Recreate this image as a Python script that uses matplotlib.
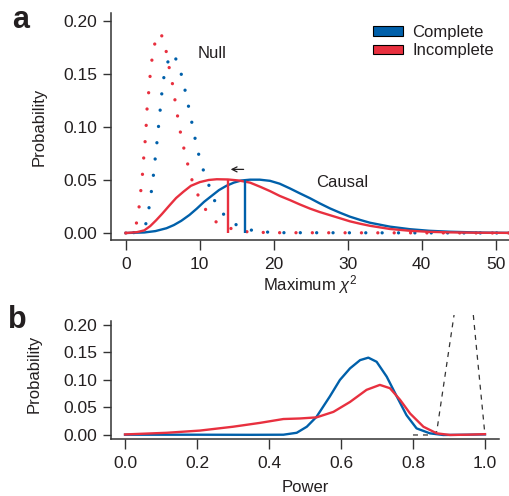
import matplotlib
matplotlib.use("Agg")
import matplotlib.pyplot as plt
from matplotlib.patches import Patch

plt.rcParams['font.family'] = ['Liberation Sans', 'DejaVu Sans']
plt.rcParams['mathtext.fontset'] = 'custom'
plt.rcParams['mathtext.rm'] = 'Liberation Sans'
plt.rcParams['mathtext.it'] = 'Liberation Sans:italic'

BLUE = '#0060aa'
RED = '#e8303f'
INK = '#231f20'

# panel a: null distributions (dotted)
null_red_x = [0, 0.8, 1.35, 1.67, 1.9, 2.07, 2.25, 2.39, 2.52, 2.7, 2.78, 2.88, 3.06, 3.2, 3.38, 3.6, 3.96, 4.69,
              5.31, 5.6, 5.95, 6.3, 6.57, 6.85, 7.16, 7.47, 7.88, 8.3, 8.7, 9.28, 10, 10.9, 12.07, 13.55, 15.3, 17, 20, 52]
null_red_y = [0, 0.001, 0.006, 0.018, 0.030, 0.043, 0.055, 0.068, 0.080, 0.0925, 0.105, 0.118, 0.130, 0.142, 0.155, 0.167, 0.180, 0.189,
              0.178, 0.165, 0.153, 0.141, 0.129, 0.116, 0.104, 0.0915, 0.079, 0.067, 0.055, 0.0434, 0.032, 0.0208, 0.011, 0.0057, 0.0019, 0.0008, 0.0003, 0.0]
null_blue_x = [0, 1.5, 2.3, 2.8, 3.1, 3.38, 3.6, 3.83, 4.0, 4.19, 4.37, 4.55, 4.73, 4.9, 5.14, 5.5, 6.35,
               7.16, 7.6, 8.0, 8.38, 8.74, 9.1, 9.46, 9.86, 10.36, 10.99, 11.6, 12.25, 13.3, 14.7, 16.26, 18, 21, 52]
null_blue_y = [0, 0.0005, 0.003, 0.010, 0.022, 0.035, 0.047, 0.060, 0.072, 0.084, 0.097, 0.109, 0.122, 0.134, 0.1465, 0.159, 0.1695,
               0.159, 0.147, 0.135, 0.1226, 0.111, 0.098, 0.086, 0.074, 0.0616, 0.050, 0.0375, 0.0264, 0.017, 0.0085, 0.0038, 0.0012, 0.0003, 0.0]

# panel a: causal distributions
causal_red_x = [0, 1.5, 2.5, 3.3, 4.1, 4.9, 5.9, 6.8, 7.8, 8.8, 10, 11.2, 12.3, 13.8, 15.3, 16.8, 18.2, 19.5, 20.8, 22.2, 23.5,
                24.9, 26.2, 27.6, 29, 30.3, 31.7, 33, 35.7, 38.4, 41, 43.8, 47, 52]
causal_red_y = [0, 0.0008, 0.0025, 0.0065, 0.012, 0.018, 0.026, 0.033, 0.039, 0.0445, 0.048, 0.050, 0.0507, 0.0505, 0.0495, 0.0475,
                0.0435, 0.0395, 0.035, 0.031, 0.027, 0.023, 0.0198, 0.0168, 0.0138, 0.011, 0.0087, 0.0068, 0.0038, 0.0021, 0.0011,
                0.0006, 0.0003, 0.0001]
causal_blue_x = [0, 2.5, 4, 5.5, 6.5, 7.5, 8.6, 9.6, 10.6, 11.6, 12.6, 13.6, 14.6, 15.6, 16.8, 18.1, 19.5, 20.8, 22.2, 23.5, 24.9,
                 26.2, 27.6, 29, 30.3, 31.7, 33, 35.7, 38.4, 41, 43.8, 48, 52]
causal_blue_y = [0, 0.0005, 0.0018, 0.0045, 0.0075, 0.0115, 0.017, 0.023, 0.0295, 0.035, 0.0405, 0.0445, 0.0475, 0.0495, 0.0503,
                 0.0503, 0.0492, 0.0465, 0.042, 0.0375, 0.0328, 0.028, 0.0232, 0.019, 0.0154, 0.0123, 0.0097, 0.006, 0.0036,
                 0.0021, 0.0012, 0.0004, 0.0001]
thresh_red = 13.8
thresh_blue = 16.1

# panel b: power distributions
power_blue_x = [0, 0.2, 0.347, 0.44, 0.477, 0.505, 0.532, 0.569, 0.597, 0.625, 0.653, 0.676, 0.699, 0.727, 0.755, 0.782, 0.81, 0.847, 0.884, 0.95, 1.0]
power_blue_y = [0.0005, 0.0005, 0.0003, 0.0005, 0.004, 0.015, 0.033, 0.07, 0.1, 0.121, 0.136, 0.1405, 0.133, 0.106, 0.07, 0.036, 0.012, 0.003, 0.0, 0.0005, 0.001]
power_red_x = [0, 0.116, 0.208, 0.3, 0.375, 0.44, 0.486, 0.532, 0.579, 0.625, 0.671, 0.708, 0.736, 0.764, 0.792, 0.829, 0.866, 0.903, 0.95, 1.0]
power_red_y = [0.001, 0.004, 0.008, 0.015, 0.022, 0.029, 0.030, 0.032, 0.042, 0.06, 0.082, 0.091, 0.085, 0.064, 0.039, 0.015, 0.003, 0.0, 0.0005, 0.0015]
power_ref_x = [0.80, 0.847, 0.866, 0.88, 0.90, 0.92, 0.945, 0.96, 0.98, 1.0]
power_ref_y = [0, 0, 0.006, 0.068, 0.156, 0.244, 0.36, 0.27, 0.134, 0.0]

a_xticks = [0, 10, 20, 30, 40, 50]
yticks = [0.0, 0.05, 0.10, 0.15, 0.20]
b_xticks = [0.0, 0.2, 0.4, 0.6, 0.8, 1.0]

fig = plt.figure(figsize=(5.09, 4.96), dpi=100)
ax = fig.add_axes([111/509, 1 - 240/496, 398/509, 227/496])
bx = fig.add_axes([111/509, 1 - 439/496, 388/509, 124/496])


def style(a):
    for s in ['top', 'right']:
        a.spines[s].set_visible(False)
    for s in ['left', 'bottom']:
        a.spines[s].set_color('#333333')
        a.spines[s].set_linewidth(1.1)
    a.tick_params(axis='x', length=7, width=1.0, color='#333333', pad=5, labelsize=12.5, labelcolor=INK)
    a.tick_params(axis='y', length=6, width=1.0, color='#333333', pad=4, labelsize=12.5, labelcolor=INK)
    a.set_yticks(yticks)
    a.set_yticklabels(['%.2f' % v for v in yticks])


ax.plot(null_red_x, null_red_y, color=RED, lw=2.4, linestyle=(0, (0.01, 4.9)), dash_capstyle='round')
ax.plot(null_blue_x, null_blue_y, color=BLUE, lw=2.4, linestyle=(2.5, (0.01, 4.9)), dash_capstyle='round')
ax.plot(causal_blue_x, causal_blue_y, color=BLUE, lw=1.7)
ax.plot(causal_red_x, causal_red_y, color=RED, lw=1.7)
ax.vlines(thresh_blue, 0, 0.0503, color=BLUE, lw=1.7)
ax.vlines(thresh_red, 0, 0.0505, color=RED, lw=1.7)
ax.annotate('', xy=(13.8, 0.060), xytext=(16.3, 0.060),
            arrowprops=dict(arrowstyle='->', lw=0.9, color=INK, mutation_scale=9))
ax.text(11.6, 0.169, 'Null', fontsize=12, color=INK, ha='center', va='center')
ax.text(29.2, 0.048, 'Causal', fontsize=12, color=INK, ha='center', va='center')
ax.set_xlim(-2.0, 51.8)
ax.set_ylim(-0.0066, 0.2075)
ax.set_xticks(a_xticks)
style(ax)
ax.set_ylabel('Probability', fontsize=12, color=INK)
ax.yaxis.set_label_coords(-(111 - 47) / 398, 0.5)
ax.set_xlabel(r'Maximum $\chi^2$', fontsize=12, color=INK)
ax.xaxis.label.set_va('center')
ax.xaxis.set_label_coords(0.5, -(285 - 240) / 227)

handles = [Patch(facecolor=BLUE, edgecolor='black', lw=0.8, label='Complete'),
           Patch(facecolor=RED, edgecolor='black', lw=0.8, label='Incomplete')]
ax.legend(handles=handles, loc='upper left', bbox_to_anchor=(373/509, 1 - 25/496), bbox_transform=fig.transFigure,
          frameon=False, fontsize=12, borderpad=0, borderaxespad=0, handlelength=1.8, handleheight=0.5,
          handletextpad=0.55, labelspacing=0.2, labelcolor=INK)

bx.plot(power_ref_x, power_ref_y, color='#333333', lw=0.9, linestyle=(0, (4, 4)))
bx.plot(power_blue_x, power_blue_y, color=BLUE, lw=1.7)
bx.plot(power_red_x, power_red_y, color=RED, lw=1.7)
bx.set_xlim(-0.039, 1.039)
bx.set_ylim(-0.0073, 0.218)
bx.set_xticks(b_xticks)
bx.set_xticklabels(['%.1f' % v for v in b_xticks])
style(bx)
bx.spines['left'].set_bounds(-0.0073, 0.2073)
bx.set_ylabel('Probability', fontsize=12, color=INK)
bx.yaxis.set_label_coords(-(111 - 42) / 388, 0.5 + (315 + 62 - 373.5) / 124)
bx.set_xlabel('Power', fontsize=12, color=INK)
bx.xaxis.label.set_va('center')
bx.xaxis.set_label_coords(0.5, -(487 - 439) / 124)

fig.text(12/509, 1 - 28/496, 'a', fontsize=22, fontweight='bold', color=INK, va='baseline')
fig.text(8/509, 1 - 328/496, 'b', fontsize=22, fontweight='bold', color=INK, va='baseline')

fig.savefig('out.png', dpi=100)
